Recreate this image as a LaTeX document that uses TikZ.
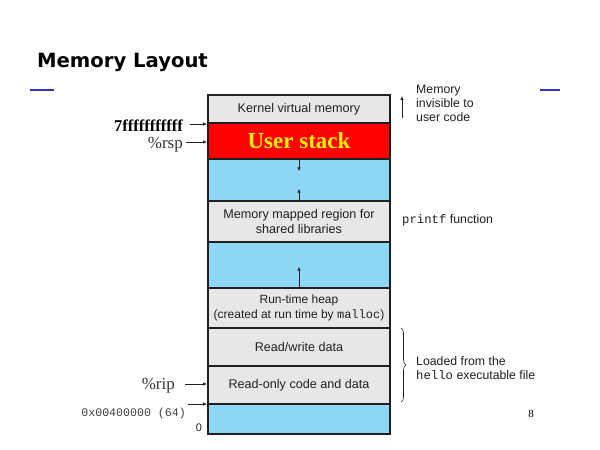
\documentclass[tikz,border=0pt]{standalone}
\usepackage{fontspec}
\setmainfont{Liberation Sans}
\newfontfamily\serifb{Liberation Serif}
\newfontfamily\monof{Liberation Mono}
\newfontfamily\titlef{DejaVu Sans}
\usetikzlibrary{arrows.meta,decorations.pathreplacing}
\definecolor{rowgray}{RGB}{230,231,232}
\definecolor{rowblue}{RGB}{140,216,246}
\definecolor{edge}{RGB}{35,31,32}
\definecolor{barblue}{RGB}{51,51,204}
\definecolor{txt}{RGB}{35,31,32}
\tikzset{
  row/.style={draw=edge, line width=1.4pt, minimum width=182pt, inner sep=0pt, font=\fontsize{12.6}{15}\selectfont, text=txt, align=center},
  ptr/.style={draw=edge, line width=0.6pt, -{Latex[length=4pt,width=3.5pt]}},
  lbl/.style={font=\fontsize{12.3}{14}\selectfont, text=txt, align=left, inner sep=0pt},
}
\begin{document}
\begin{tikzpicture}[x=1pt,y=-1pt]
\useasboundingbox[fill=white] (0,0) rectangle (600,450);
% title
\node[anchor=west, inner sep=0pt, font=\titlef\bfseries\fontsize{19.6}{22}\selectfont] (title) at (37,62) {Memory Layout};
\draw[barblue, line width=2pt] (30,90) -- (54,90);
\draw[barblue, line width=2pt] (540,90) -- (560,90);
% rows
\node[row, fill=rowgray, minimum height=28pt] (kern) at (299,109) {Kernel virtual memory};
\node[row, fill=red, minimum height=36pt, text=yellow, font=\serifb\bfseries\fontsize{23}{25}\selectfont] (stack) at (299,141) {User stack};
\node[row, fill=rowblue, minimum height=42pt] (gap1) at (299,180) {};
\node[row, fill=rowgray, minimum height=41pt] (mmap) at (299,221.5) {Memory mapped region for\\shared libraries};
\node[row, fill=rowblue, minimum height=46pt] (gap2) at (299,265) {};
\node[row, fill=rowgray, minimum height=40pt, font=\fontsize{12}{14.5}\selectfont] (heap) at (299,308) {Run-time heap\\(created at run time by {\monof malloc})};
\node[row, fill=rowgray, minimum height=38pt] (rw) at (299,347) {Read/write data};
\node[row, fill=rowgray, minimum height=38pt] (ro) at (299,385) {Read-only code and data};
\node[row, fill=rowblue, minimum height=30pt] (low) at (299,419) {};
% arrows inside gaps
\draw[ptr] (gap1.north) -- ++(0,13);
\draw[ptr] (gap1.south) -- ++(0,-13);
\draw[ptr] (gap2.south) -- ++(0,-22);
% left labels
\node[anchor=east, inner sep=0pt, font=\serifb\bfseries\fontsize{16.5}{18}\selectfont] (top) at (183,126) {7fffffffffff};
\node[anchor=east, inner sep=0pt, font=\serifb\fontsize{17}{19}\selectfont, text=black!80] (rsp) at (183,145) {\%rsp};
\node[anchor=east, inner sep=0pt, font=\serifb\fontsize{17}{19}\selectfont, text=black!80] (rip) at (175,386) {\%rip};
\node[anchor=east, inner sep=0pt, font=\monof\fontsize{11.6}{13}\selectfont, text=black!75] (base) at (186,413) {0x00400000 (64)};
\node[anchor=center, inner sep=0pt, font=\fontsize{11}{13}\selectfont, text=txt] (zero) at (199,428) {0};
\coordinate (a1s) at (190,124); \coordinate (a1e) at (207,124);
\coordinate (a2s) at (186,142); \coordinate (a2e) at (207,142);
\coordinate (a3s) at (185,384); \coordinate (a3e) at (207,384);
\coordinate (a4s) at (188,404); \coordinate (a4e) at (207,404);
\draw[ptr] (a1s) -- (a1e);
\draw[ptr] (a2s) -- (a2e);
\draw[ptr] (a3s) -- (a3e);
\draw[ptr] (a4s) -- (a4e);
% right labels
\coordinate (inv1) at (402,118); \coordinate (inv2) at (402,96);
\draw[ptr] (inv1) -- (inv2);
\node[lbl, anchor=north west] (invis) at (416,85) {Memory\\invisible to\\user code};
\node[lbl, anchor=west] (printf) at (402,220) {{\monof printf} function};
\coordinate (b1) at (401,402); \coordinate (b2) at (401,328);
\draw[edge, line width=0.6pt, decorate, decoration={brace, amplitude=5pt}] (b2) -- (b1);
\node[lbl, anchor=west] (loaded) at (416,368) {Loaded from the\\{\monof hello} executable file};
\node[inner sep=0pt, font=\serifb\fontsize{11}{13}\selectfont] (page) at (531,414) {8};
\end{tikzpicture}
\end{document}
